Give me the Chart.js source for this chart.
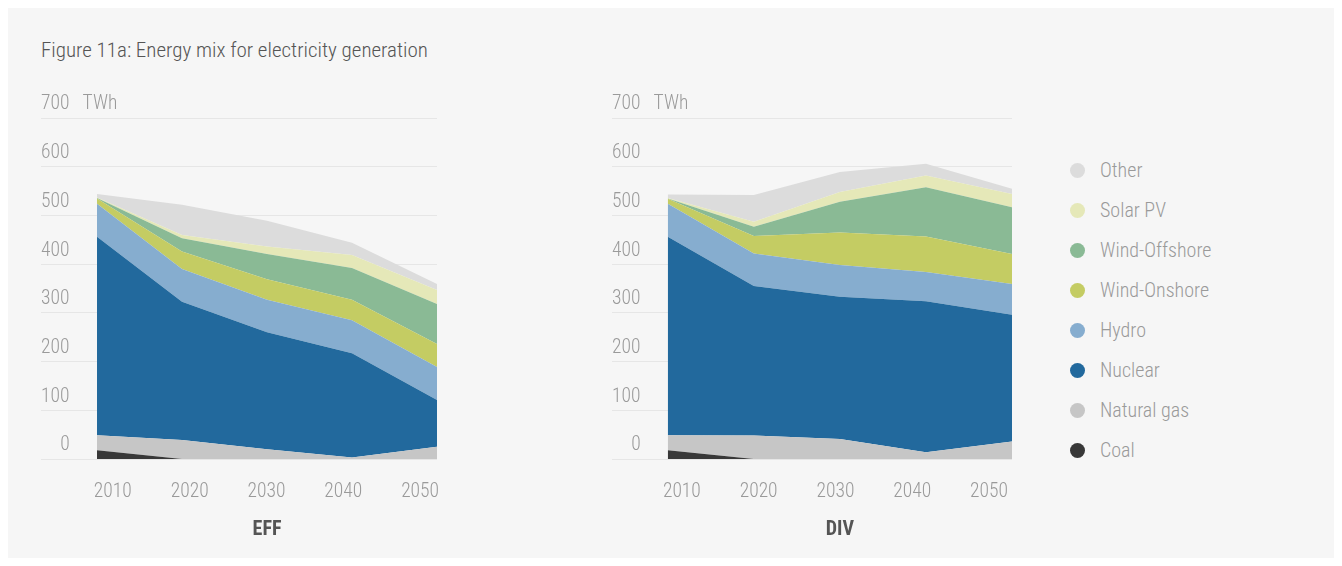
<!DOCTYPE html>
<html>
<head>
<meta charset="utf-8">
<script src="https://cdn.jsdelivr.net/npm/chart.js@4.4.1/dist/chart.umd.min.js"></script>
<style>
  body { margin: 0; background: #fff; width: 1342px; height: 566px; overflow: hidden;
         font-family: "Roboto Condensed", "Liberation Sans Narrow", "DejaVu Sans Condensed", Roboto, sans-serif; }
  #panel { position: absolute; left: 8px; top: 8px; width: 1326px; height: 550px; background: #f6f6f6; }
  #title { position: absolute; left: 41px; top: 38px; font-size: 21px; font-weight: 300; line-height: 24px; color: #555; }
  .box { position: absolute; top: 60px; width: 420px; height: 490px; }
  #legend { position: absolute; left: 1070px; top: 150px; }
  .item { height: 40px; display: flex; align-items: center; font-size: 20px; font-weight: 300; color: #9a9a9a; }
  .dot { width: 15px; height: 15px; border-radius: 50%; margin-right: 15px; }
</style>
</head>
<body>
<div id="panel"></div>
<div id="title">Figure 11a: Energy mix for electricity generation</div>
<div class="box" style="left:31px"><canvas id="effChart"></canvas></div>
<div class="box" style="left:602px"><canvas id="divChart"></canvas></div>
<div id="legend"></div>

<script>
var FONT = '"Roboto Condensed", "Liberation Sans Narrow", "DejaVu Sans Condensed", Roboto, sans-serif';

// categories and axis ticks
var years = ['2010', '2020', '2030', '2040', '2050'];
var yTicks = [0, 100, 200, 300, 400, 500, 600, 700];
var unit = 'TWh';

// series names and colours, bottom of the stack first
var seriesNames = ['Coal', 'Natural gas', 'Nuclear', 'Hydro', 'Wind-Onshore', 'Wind-Offshore', 'Solar PV', 'Other'];
var seriesColors = ['#383838', '#c6c6c6', '#22699d', '#86adcf', '#c4cc63', '#8aba95', '#e5e8b8', '#dcdcdc'];

// EFF scenario, TWh
var effCoal     = [18, 0, 0, 0, 0];
var effGas      = [31, 39, 20, 3, 25];
var effNuclear  = [407, 284, 240, 214, 96];
var effHydro    = [68, 67, 67, 68, 68];
var effOnshore  = [11, 36, 42, 42, 47];
var effOffshore = [1, 27, 52, 65, 82];
var effSolar    = [1, 7, 15, 27, 29];
var effOther    = [7, 62, 53, 25, 12];

// DIV scenario, TWh
var divCoal     = [18, 0, 0, 0, 0];
var divGas      = [31, 48, 41, 14, 36];
var divNuclear  = [407, 307, 292, 310, 260];
var divHydro    = [68, 67, 65, 60, 63];
var divOnshore  = [10, 36, 67, 73, 62];
var divOffshore = [1, 19, 63, 101, 96];
var divSolar    = [1, 10, 20, 24, 27];
var divOther    = [7, 55, 41, 24, 11];

Chart.defaults.font.family = FONT;
Chart.defaults.font.size = 19.5;
Chart.defaults.font.weight = 300;
Chart.defaults.color = '#9a9a9a';

// scenario name under the years, centred on the plotted area
var scenarioLabel = {
  id: 'scenarioLabel',
  afterDraw: function (chart) {
    var x = chart.scales.x;
    var mid = (x.getPixelForValue(0) + x.getPixelForValue(years.length - 1)) / 2;
    var c = chart.ctx;
    c.save();
    c.font = 'bold 20px ' + FONT;
    c.fillStyle = '#555';
    c.textAlign = 'center';
    c.textBaseline = 'middle';
    c.fillText(chart.options.plugins.scenarioLabel.text, mid, chart.height - 20);
    c.restore();
  }
};

function buildDatasets(series) {
  return series.map(function (values, i) {
    return {
      label: seriesNames[i],
      data: values.map(function (v, j) { return { x: j, y: v }; }),
      backgroundColor: seriesColors[i],
      borderWidth: 0,
      pointRadius: 0,
      pointHoverRadius: 0,
      fill: i === 0 ? 'origin' : '-1',
      tension: 0
    };
  });
}

function makeChart(id, series, title, xMin, yearMin, yearMax, padLeft, padRight) {
  var ctx = document.getElementById(id);
  return new Chart(ctx, {
    type: 'line',
    data: { datasets: buildDatasets(series) },
    plugins: [scenarioLabel],
    options: {
      responsive: true,
      maintainAspectRatio: false,
      animation: false,
      events: [],
      layout: { padding: { top: 58, left: padLeft, right: padRight, bottom: 0 } },
      plugins: {
        legend: { display: false },
        tooltip: { enabled: false },
        scenarioLabel: { text: title }
      },
      scales: {
        x: {
          type: 'linear', min: xMin, max: years.length - 1,
          display: false
        },
        years: {
          type: 'linear', position: 'bottom', min: yearMin, max: yearMax,
          grid: { display: false, drawTicks: false },
          border: { display: false },
          afterBuildTicks: function (s) { s.ticks = years.map(function (y) { return { value: +y }; }); },
          afterFit: function (s) { s.height = 91; s.paddingLeft = 0; s.paddingRight = 0; },
          ticks: { padding: 21, autoSkip: false, maxRotation: 0,
                   callback: function (v) { return String(v); } }
        },
        y: {
          stacked: true, min: 0, max: 700,
          grid: { color: '#e6e6e6', drawTicks: false },
          border: { display: false },
          afterBuildTicks: function (s) { s.ticks = yTicks.map(function (v) { return { value: v }; }); },
          afterFit: function (s) { s.width = 0; },
          ticks: {
            mirror: true, padding: 0, labelOffset: -13.5,
            callback: function (v) {
              var t = String(v).padStart(3, '\u2007');
              return v === yTicks[yTicks.length - 1] ? t + '   ' + unit : t;
            }
          }
        }
      }
    }
  });
}

makeChart('effChart',
  [effCoal, effGas, effNuclear, effHydro, effOnshore, effOffshore, effSolar, effOther],
  'EFF', -0.659, 2000.65, 2052.2, 10, 14);
makeChart('divChart',
  [divCoal, divGas, divNuclear, divHydro, divOnshore, divOffshore, divSolar, divOther],
  'DIV', -0.648, 2000.9, 2053.0, 10, 10);

// legend, top of the stack first
var legend = document.getElementById('legend');
for (var i = seriesNames.length - 1; i >= 0; i--) {
  var row = document.createElement('div');
  row.className = 'item';
  var dot = document.createElement('span');
  dot.className = 'dot';
  dot.style.background = seriesColors[i];
  var txt = document.createElement('span');
  txt.textContent = seriesNames[i];
  row.appendChild(dot);
  row.appendChild(txt);
  legend.appendChild(row);
}
</script>
</body>
</html>
